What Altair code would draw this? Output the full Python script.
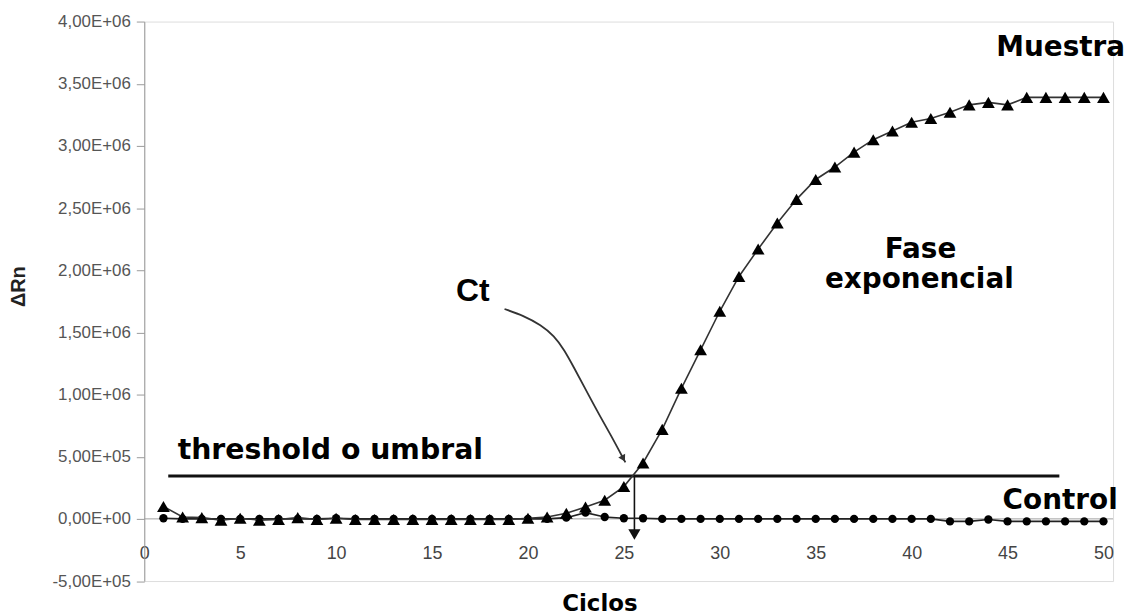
import altair as alt
import pandas as pd

# ---------------- data ----------------
cycles = list(range(1, 51))
muestra = [1.0e5, 1.5e4, 1.0e4, -1.0e4, 5e3, -1.0e4, -5e3, 1.0e4, -5e3, 5e3,
           -5e3, -5e3, -5e3, -5e3, -5e3, -5e3, -5e3, -5e3, -5e3, 5e3,
           1.5e4, 4.5e4, 9.5e4, 1.5e5, 2.6e5, 4.5e5, 7.2e5, 1.05e6, 1.36e6, 1.67e6,
           1.95e6, 2.17e6, 2.38e6, 2.57e6, 2.73e6, 2.83e6, 2.95e6, 3.05e6, 3.12e6, 3.19e6,
           3.22e6, 3.27e6, 3.33e6, 3.35e6, 3.33e6, 3.39e6, 3.39e6, 3.39e6, 3.39e6, 3.39e6]
control = [5e3, 0, 0, 0, 0, 0, 0, 0, 0, 5e3,
           0, 0, 0, 0, 0, 0, 0, 0, 0, 0,
           0, 1e4, 5e4, 1.5e4, 5e3, 5e3, 0, 0, 0, 0,
           0, 0, 0, 0, 0, 0, 0, 0, 0, 0,
           0, -2e4, -2e4, -5e3, -2e4, -2e4, -2e4, -2e4, -2e4, -2e4]

x_ticks = [0, 5, 10, 15, 20, 25, 30, 35, 40, 45, 50]
y_ticks = [-5e5, 0, 5e5, 1e6, 1.5e6, 2e6, 2.5e6, 3e6, 3.5e6, 4e6]
x_domain = [0, 50.5]
y_domain = [-5e5, 4e6]

threshold_value = 3.45e5
threshold_start = 1.25
threshold_end = 47.7
ct_cycle = 25.55
ct_arrow_end = -1.25e5

ct_curve_x = [18.78, 19.81, 20.67, 21.37, 21.89, 22.41, 22.92, 23.61, 24.30, 25.08]
ct_curve_y = [1.688e6, 1.632e6, 1.56e6, 1.472e6, 1.36e6, 1.214e6, 1.066e6, 0.866e6, 0.68e6, 0.454e6]

# ---------------- tables ----------------
df_m = pd.DataFrame({"ciclo": cycles, "valor": muestra})
df_c = pd.DataFrame({"ciclo": cycles, "valor": control})
df_curve = pd.DataFrame({"ciclo": ct_curve_x, "valor": ct_curve_y, "o": list(range(len(ct_curve_x)))})

X = alt.X("ciclo:Q",
          scale=alt.Scale(domain=x_domain, nice=False, zero=False),
          axis=alt.Axis(values=x_ticks, domain=False, ticks=False, grid=False,
                        labelFont="Liberation Sans", labelFontSize=18, labelColor="#444",
                        labelPadding=0, offset=-37, labelFlush=False, labelOverlap=False,
                        title=None))

label_expr = (
    "datum.value == 0 ? '0,00E+00' : ((datum.value < 0 ? '-' : '') + "
    "replace(format(abs(datum.value) / pow(10, floor(log(abs(datum.value)) / LN10 + 1e-9)), '.2f'), '.', ',') + "
    "'E+' + (floor(log(abs(datum.value)) / LN10 + 1e-9) < 10 ? '0' : '') + "
    "floor(log(abs(datum.value)) / LN10 + 1e-9))"
)

Y = alt.Y("valor:Q",
          scale=alt.Scale(domain=y_domain, nice=False, zero=False),
          axis=alt.Axis(values=y_ticks, labelExpr=label_expr, grid=False,
                        domainColor="#9a9a9a", tickColor="#9a9a9a", tickSize=8,
                        labelPadding=6, labelFont="Liberation Sans", labelFontSize=17,
                        labelColor="#555", title="ΔRn", titleFont="Liberation Sans",
                        titleFontSize=20, titleFontWeight="bold", titleColor="#222",
                        titleAngle=270, titleX=-126, titleY=266, titleAlign="center",
                        titleBaseline="middle"))

base_m = alt.Chart(df_m)
base_c = alt.Chart(df_c)

zero_line = alt.Chart(pd.DataFrame({"ciclo": [x_domain[0]], "c2": [x_domain[1]], "valor": [0]})).mark_rule(
    color="#a0a0a0", strokeWidth=1).encode(x=X, x2="c2:Q", y=Y)

threshold = alt.Chart(pd.DataFrame({"ciclo": [threshold_start], "c2": [threshold_end],
                                    "valor": [threshold_value]})).mark_rule(
    color="#111", strokeWidth=3).encode(x=X, x2="c2:Q", y=Y)

ct_vline = alt.Chart(pd.DataFrame({"ciclo": [ct_cycle], "valor": [threshold_value],
                                   "v2": [ct_arrow_end]})).mark_rule(
    color="#111", strokeWidth=1.6).encode(x=X, y=Y, y2="v2:Q")

ct_vhead = alt.Chart(pd.DataFrame({"ciclo": [ct_cycle], "valor": [ct_arrow_end]})).mark_point(
    shape="triangle-down", filled=True, color="#111", size=150, opacity=1).encode(x=X, y=Y)

ct_curve = alt.Chart(df_curve).mark_line(color="#333", strokeWidth=1.8, interpolate="basis").encode(
    x=X, y=Y, order="o:Q")

ct_chead = alt.Chart(pd.DataFrame({"ciclo": [24.97], "valor": [0.485e6]})).mark_point(
    shape="triangle-up", filled=True, color="#333", size=60, opacity=1, angle=152).encode(x=X, y=Y)

line_m = base_m.mark_line(color="#333", strokeWidth=1.6).encode(x=X, y=Y)
pts_m = base_m.mark_point(shape="triangle-up", filled=True, color="black", size=165, opacity=1).encode(x=X, y=Y)
line_c = base_c.mark_line(color="#222", strokeWidth=1.6).encode(x=X, y=Y)
pts_c = base_c.mark_point(shape="circle", filled=True, color="black", size=70, opacity=1).encode(x=X, y=Y)


def label(txt, x, y, size, font="DejaVu Sans", align="center", weight="bold"):
    return alt.Chart(pd.DataFrame({"t": [txt]})).mark_text(
        font=font, fontSize=size, fontWeight=weight, align=align,
        baseline="alphabetic", color="black").encode(
        x=alt.datum(x), y=alt.datum(y), text="t")


t_muestra = label("Muestra", 47.77, 3.72e6, 28)
t_control = label("Control", 47.74, 0.8e5, 28)
t_fase = label("Fase", 40.46, 2.096e6, 28)
t_expo = label("exponencial", 40.4, 1.856e6, 28)
t_thr = label("threshold o umbral", 1.74, 4.8e5, 28.5, align="left")
t_ct = label("Ct", 17.13, 1.752e6, 32, font="Liberation Sans")
t_ciclos = label("Ciclos", 23.75, -7.44e5, 23)

chart = alt.layer(
    zero_line, threshold, ct_vline, ct_vhead, ct_curve, ct_chead,
    line_c, pts_c, line_m, pts_m,
    t_muestra, t_control, t_fase, t_expo, t_thr, t_ct, t_ciclos,
).properties(
    width=974, height=562.5,
    autosize=alt.AutoSizeParams(type="none"),
    padding={"left": 137, "top": 12, "right": 12, "bottom": 34},
).configure_view(stroke=None).configure(background="white")

chart.save("out.html", embed_options={"renderer": "svg", "actions": False})
